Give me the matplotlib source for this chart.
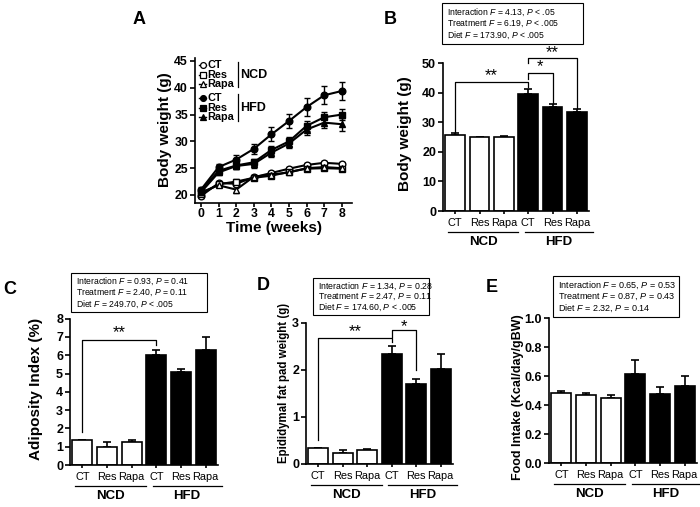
import matplotlib
matplotlib.use('Agg')
import matplotlib.pyplot as plt
from matplotlib.transforms import blended_transform_factory
from matplotlib.patches import Rectangle

plt.rcParams['font.family'] = ['Liberation Sans', 'DejaVu Sans']
plt.rcParams['mathtext.fontset'] = 'custom'
plt.rcParams['mathtext.rm'] = 'Liberation Sans'
plt.rcParams['mathtext.it'] = 'Liberation Sans:italic'
plt.rcParams['mathtext.bf'] = 'Liberation Sans:bold'

# ---------------- data ----------------
weeks = [0, 1, 2, 3, 4, 5, 6, 7, 8]
ncd_ct = [19.8, 22.2, 22.1, 23.3, 24.1, 24.9, 25.6, 26.0, 25.8]
ncd_ct_err = [0.3, 0.3, 0.4, 0.3, 0.3, 0.3, 0.4, 0.4, 0.3]
ncd_res = [20.2, 22.0, 22.5, 23.2, 23.6, 24.3, 24.9, 25.0, 24.9]
ncd_res_err = [0.3, 0.3, 0.4, 0.3, 0.3, 0.3, 0.3, 0.3, 0.3]
ncd_rapa = [20.5, 21.8, 21.0, 23.4, 23.8, 24.2, 25.0, 25.2, 25.0]
ncd_rapa_err = [0.3, 0.3, 0.6, 0.3, 0.3, 0.3, 0.3, 0.3, 0.3]
hfd_ct = [21.0, 25.2, 26.6, 28.6, 31.3, 33.8, 36.4, 38.6, 39.4]
hfd_ct_err = [0.4, 0.6, 0.9, 1.0, 1.3, 1.3, 1.6, 1.7, 1.6]
hfd_res = [20.8, 24.5, 25.5, 26.1, 28.4, 30.0, 32.9, 34.5, 35.0]
hfd_res_err = [0.4, 0.5, 0.6, 0.7, 0.7, 0.8, 0.9, 1.0, 1.0]
hfd_rapa = [20.5, 24.2, 25.4, 25.8, 27.9, 29.6, 32.2, 33.5, 33.2]
hfd_rapa_err = [0.4, 0.5, 0.6, 0.8, 0.8, 0.9, 1.0, 1.0, 1.2]

treatments = ['CT', 'Res', 'Rapa', 'CT', 'Res', 'Rapa']
diets = ['NCD', 'HFD']
bar_colors = ['white', 'white', 'white', 'black', 'black', 'black']

bw_mean = [25.7, 24.9, 25.1, 39.6, 35.3, 33.4]
bw_err = [0.6, 0.3, 0.3, 1.6, 0.9, 1.1]
adi_mean = [1.35, 1.0, 1.23, 6.0, 5.08, 6.27]
adi_err = [0.04, 0.26, 0.12, 0.3, 0.18, 0.73]
fat_mean = [0.33, 0.24, 0.29, 2.33, 1.70, 2.02]
fat_err = [0.02, 0.05, 0.03, 0.17, 0.10, 0.32]
food_mean = [0.487, 0.474, 0.453, 0.614, 0.476, 0.536]
food_err = [0.015, 0.013, 0.018, 0.10, 0.053, 0.066]

stats_B = ['Interaction $\\mathit{F}$ = 4.13, $\\mathit{P}$ < .05',
           'Treatment $\\mathit{F}$ = 6.19, $\\mathit{P}$ < .005',
           'Diet $\\mathit{F}$ = 173.90, $\\mathit{P}$ < .005']
stats_C = ['Interaction $\\mathit{F}$ = 0.93, $\\mathit{P}$ = 0.41',
           'Treatment $\\mathit{F}$ = 2.40, $\\mathit{P}$ = 0.11',
           'Diet $\\mathit{F}$ = 249.70, $\\mathit{P}$ < .005']
stats_D = ['Interaction $\\mathit{F}$ = 1.34, $\\mathit{P}$ = 0.28',
           'Treatment $\\mathit{F}$ = 2.47, $\\mathit{P}$ = 0.11',
           'Diet $\\mathit{F}$ = 174.60, $\\mathit{P}$ < .005']
stats_E = ['Interaction $\\mathit{F}$ = 0.65, $\\mathit{P}$ = 0.53',
           'Treatment $\\mathit{F}$ = 0.87, $\\mathit{P}$ = 0.43',
           'Diet $\\mathit{F}$ = 2.32, $\\mathit{P}$ = 0.14']

# ---------------- figure ----------------
W, H = 700, 507
fig = plt.figure(figsize=(7, 5.07), dpi=100)

LW = 1.2


def px_axes(l, r, t, b):
    return fig.add_axes([l / W, 1 - b / H, (r - l) / W, (b - t) / H])


def ftext(x, y, s, **kw):
    fig.text(x / W, 1 - y / H, s, **kw)


def style_axes(ax, labelsize=9):
    for s in ['top', 'right']:
        ax.spines[s].set_visible(False)
    for s in ['left', 'bottom']:
        ax.spines[s].set_linewidth(LW)
    ax.tick_params(direction='out', length=3.5, width=LW, labelsize=labelsize, pad=1.5)
    for lab in ax.get_xticklabels() + ax.get_yticklabels():
        lab.set_fontweight('bold')


def stats_box(l, r, t, b, lines, fs=6.2):
    fig.patches.append(Rectangle((l / W, 1 - b / H), (r - l) / W, (b - t) / H,
                                 transform=fig.transFigure, fill=False,
                                 edgecolor='black', linewidth=0.8))
    n = len(lines)
    step = (b - t) / (n + 0.45)
    for i, s in enumerate(lines):
        ftext(l + 5, t + step * (i + 0.75), s, fontsize=fs, ha='left', va='center')


def bar_panel(box, means, errs, ylim, yticks, fmt):
    l, r, t, b = box
    ax = px_axes(l, r, t, b)
    x = list(range(len(means)))
    ax.bar(x, means, width=0.8, color=bar_colors, edgecolor='black',
           linewidth=LW, zorder=2)
    lower = [0] * len(errs)
    ax.errorbar(x, means, yerr=[lower, errs], fmt='none', ecolor='black',
                elinewidth=LW, capsize=3.2, capthick=LW, zorder=1)
    ax.set_xlim(-0.5, 5.5)
    ax.set_ylim(*ylim)
    ax.set_yticks(yticks)
    ax.set_yticklabels([fmt.format(v) for v in yticks])
    ax.set_xticks(x)
    ax.set_xticklabels([])
    style_axes(ax)
    ax.tick_params(axis='x', length=2.5)
    hpx = b - t
    tr = blended_transform_factory(ax.transData, ax.transAxes)
    for xi, lab in zip(x, treatments):
        ax.text(xi, -12 / hpx, lab, transform=tr, ha='center', va='center',
                fontsize=7.9)
    for (x0, x1), d in zip([(-0.3, 2.6), (2.85, 5.65)], diets):
        ax.plot([x0, x1], [-20.5 / hpx, -20.5 / hpx], color='black', lw=0.9,
                transform=tr, clip_on=False)
        ax.text((x0 + x1) / 2, -31 / hpx, d, transform=tr, ha='center',
                va='center', fontsize=9.5, fontweight='bold')
    return ax


def bracket(ax, x0, x1, y, y0, y1, label, dy):
    ax.plot([x0, x0, x1, x1], [y0, y, y, y1], color='black', lw=0.9,
            clip_on=False, zorder=3)
    ax.text((x0 + x1) / 2, y + dy, label, ha='center', va='center',
            fontsize=12, fontweight='light')


# ---------------- Panel A ----------------
axA = px_axes(195, 352, 58.3, 203)
ncd_series = [(ncd_ct, ncd_ct_err, 'o'), (ncd_res, ncd_res_err, 's'),
              (ncd_rapa, ncd_rapa_err, '^')]
hfd_series = [(hfd_ct, hfd_ct_err, 'o'), (hfd_res, hfd_res_err, 's'),
              (hfd_rapa, hfd_rapa_err, '^')]
for vals, err, m in ncd_series:
    axA.errorbar(weeks, vals, yerr=err, color='black', lw=1.5, marker=m,
                 markersize=4.8, markerfacecolor='white', markeredgewidth=1.0,
                 capsize=2.5, elinewidth=1.0, capthick=1.0, zorder=2)
for vals, err, m in hfd_series:
    axA.errorbar(weeks, vals, yerr=err, color='black', lw=1.5, marker=m,
                 markersize=4.8, markerfacecolor='black', markeredgewidth=1.0,
                 capsize=2.5, elinewidth=1.0, capthick=1.0, zorder=3)
axA.set_xlim(-0.34, 8.58)
axA.set_ylim(18.5, 45.5)
axA.set_xticks(weeks)
axA.set_yticks([20, 25, 30, 35, 40, 45])
style_axes(axA, labelsize=8.8)
axA.tick_params(axis='x', length=3, pad=0.8)

# legend for panel A (in axes fraction)
leg_rows = [('CT', 'o', 'white', 0.952), ('Res', 's', 'white', 0.883),
            ('Rapa', '^', 'white', 0.821), ('CT', 'o', 'black', 0.724),
            ('Res', 's', 'black', 0.655), ('Rapa', '^', 'black', 0.593)]
for lab, m, fc, yy in leg_rows:
    axA.plot([0.025, 0.07], [yy, yy], color='black', lw=1.0,
             transform=axA.transAxes, clip_on=False)
    axA.plot([0.05], [yy], marker=m, markersize=4.2, markerfacecolor=fc,
             markeredgecolor='black', markeredgewidth=0.9,
             transform=axA.transAxes, clip_on=False)
    axA.text(0.08, yy, lab, transform=axA.transAxes, fontsize=7.8,
             fontweight='bold', ha='left', va='center')
for (y0, y1, ym), d in zip([(0.972, 0.80, 0.883), (0.752, 0.566, 0.655)], diets):
    axA.plot([0.274, 0.274], [y0, y1], color='black', lw=0.9,
             transform=axA.transAxes, clip_on=False)
    axA.text(0.29, ym, d, transform=axA.transAxes, fontsize=9,
             fontweight='bold', ha='left', va='center')

ftext(165, 130, 'Body weight (g)', rotation=90, ha='center', va='center',
      fontsize=11, fontweight='bold')
ftext(274.5, 228, 'Time (weeks)', ha='center', va='center', fontsize=11,
      fontweight='bold')
ftext(139, 20, 'A', ha='center', va='center', fontsize=13, fontweight='bold')

# ---------------- Panel B ----------------
axB = bar_panel((443, 589, 63.3, 211), bw_mean, bw_err, (0, 50),
                [0, 10, 20, 30, 40, 50], '{:g}')
bracket(axB, 0, 3, 43.8, 26.8, 42.1, '**', 2.0)
bracket(axB, 3, 4, 46.8, 44.6, 36.5, '*', 2.0)
bracket(axB, 3, 5, 51.7, 50.0, 34.9, '**', 1.8)
stats_box(442, 583, 3, 44, stats_B)
ftext(405, 134, 'Body weight (g)', rotation=90, ha='center', va='center',
      fontsize=11, fontweight='bold')
ftext(390, 19, 'B', ha='center', va='center', fontsize=13, fontweight='bold')

# ---------------- Panel C ----------------
axC = bar_panel((70, 218, 318.6, 465), adi_mean, adi_err, (0, 8),
                list(range(0, 9)), '{:g}')
bracket(axC, 0, 3, 6.82, 1.82, 6.55, '**', 0.42)
stats_box(71, 207, 273, 312, stats_C)
ftext(36, 389, 'Adiposity Index (%)', rotation=90, ha='center', va='center',
      fontsize=11, fontweight='bold')
ftext(10, 289, 'C', ha='center', va='center', fontsize=13, fontweight='bold')

# ---------------- Panel D ----------------
axD = bar_panel((306, 453, 322.7, 464), fat_mean, fat_err, (0, 3),
                [0, 1, 2, 3], '{:g}')
bracket(axD, 0, 3, 2.67, 0.51, 2.6, '**', 0.15)
bracket(axD, 3, 4, 2.85, 2.70, 2.0, '*', 0.06)
stats_box(313, 429, 278, 315, stats_D, fs=6.3)
ftext(284, 383, 'Epididymal fat pad weight (g)', rotation=90, ha='center',
      va='center', fontsize=8.3, fontweight='bold')
ftext(263, 286, 'D', ha='center', va='center', fontsize=13, fontweight='bold')

# ---------------- Panel E ----------------
axE = bar_panel((549, 697, 318.3, 463.3), food_mean, food_err, (0, 1.0),
                [0.0, 0.2, 0.4, 0.6, 0.8, 1.0], '{:.1f}')
stats_box(553, 679, 276, 317, stats_E, fs=6.5)
ftext(518, 397, 'Food Intake (Kcal/day/gBW)', rotation=90, ha='center',
      va='center', fontsize=9, fontweight='bold')
ftext(492, 287, 'E', ha='center', va='center', fontsize=13, fontweight='bold')

fig.savefig('out.png', dpi=100)
